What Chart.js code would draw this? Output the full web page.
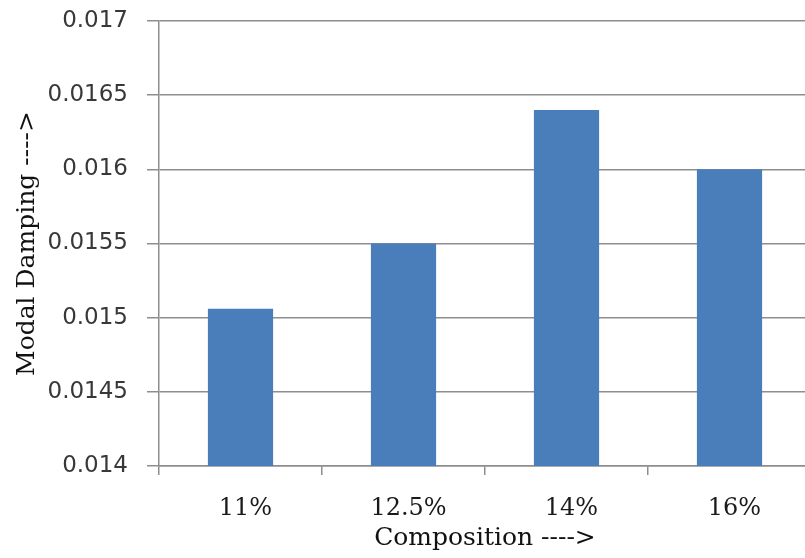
<!DOCTYPE html>
<html>
<head>
<meta charset="utf-8">
<script src="https://cdn.jsdelivr.net/npm/chart.js@4/dist/chart.umd.min.js"></script>
<style>
  html, body { margin: 0; padding: 0; background: #ffffff; overflow: hidden; }
  #wrap { position: absolute; left: 0; top: 0; width: 811px; height: 558px; }
</style>
</head>
<body>
<div id="wrap"><canvas id="c" width="811" height="558"></canvas></div>
<script>
const categories = ['11%', '12.5%', '14%', '16%'];
const modalDamping = [0.01506, 0.0155, 0.0164, 0.016];
const yTickLabels = ['0.014', '0.0145', '0.015', '0.0155', '0.016', '0.0165', '0.017'];
const xTitle = 'Composition ---->';
const yTitle = 'Modal Damping ---->';

const gridColor = '#8e8e8e';

new Chart(document.getElementById('c'), {
  type: 'bar',
  data: {
    labels: categories,
    datasets: [{
      label: 'Modal Damping',
      data: modalDamping,
      backgroundColor: '#4a7ebb',
      borderWidth: 0,
      barPercentage: 0.4,
      categoryPercentage: 1.0
    }]
  },
  options: {
    responsive: false,
    animation: false,
    layout: { padding: { top: 21, right: 0, bottom: 0, left: 0 } },
    plugins: { legend: { display: false }, tooltip: { enabled: false } },
    scales: {
      x: {
        grid: { display: true, drawOnChartArea: false, drawTicks: true, tickLength: 9, color: gridColor, lineWidth: 1.5 },
        border: { display: true, color: gridColor, width: 1.5 },
        ticks: { color: '#1a1a1a', padding: 19, labelOffset: 5, font: { family: 'DejaVu Serif', size: 24 } },
        title: { display: true, text: xTitle, color: '#111111', padding: { top: 0, bottom: 5 }, font: { family: 'DejaVu Serif', size: 25 } },
        afterFit: (s) => { s.height = 92; s.paddingLeft = 0; s.paddingRight = 0; }
      },
      y: {
        min: 0.014,
        max: 0.017,
        ticks: {
          stepSize: 0.0005,
          color: '#383838',
          padding: 19,
          font: { family: 'DejaVu Sans', size: 23 },
          callback: (v, i) => yTickLabels[i]
        },
        grid: { color: gridColor, lineWidth: 1.5, tickLength: 12 },
        border: { display: true, color: gridColor, width: 1.5 },
        title: { display: true, text: yTitle, color: '#111111', padding: { top: 12, bottom: 0 }, font: { family: 'DejaVu Serif', size: 25 } },
        afterFit: (s) => { s.width = 159; s.paddingTop = 0; s.paddingBottom = 0; }
      }
    }
  }
});
</script>
</body>
</html>
